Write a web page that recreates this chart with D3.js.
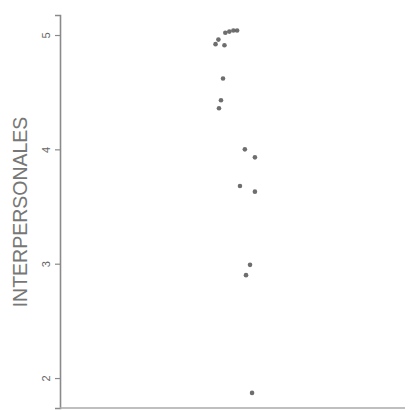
<!DOCTYPE html>
<html>
<head>
<meta charset="utf-8">
<script src="https://cdn.jsdelivr.net/npm/d3@7"></script>
<style>
  body { margin: 0; background: #fff; }
  svg { display: block; }
</style>
</head>
<body>
<svg id="chart" width="409" height="410"></svg>
<script>
// jittered strip plot, one group
var yLabel = "INTERPERSONALES";
var yTicks = [2, 3, 4, 5];
// horizontal jitter position (group centred on 1) and value
var jitterX = [0.975, 0.989, 1.003, 1.016, 0.951, 0.941, 0.972, 0.967, 0.960, 0.953, 1.043, 1.078, 1.026, 1.078, 1.061, 1.047, 1.068];
var values  = [5.02, 5.03, 5.04, 5.04, 4.96, 4.92, 4.91, 4.62, 4.43, 4.36, 4.00, 3.93, 3.68, 3.63, 2.99, 2.90, 1.87];

var svg = d3.select("#chart");
var margin = {top: 15, right: 4, bottom: 2, left: 60};
var width = 409 - margin.left - margin.right;
var height = 410 - margin.top - margin.bottom;

var x = d3.scaleLinear().domain([0.4, 1.6]).range([0, width]);
var y = d3.scaleLinear().domain([1.738, 5.175]).range([height, 0]);

var g = svg.append("g").attr("transform", "translate(" + margin.left + "," + margin.top + ")");

// y axis
var yAxis = g.append("g").call(d3.axisLeft(y).tickValues(yTicks).tickSize(5).tickPadding(3).tickFormat(d3.format("d")));
yAxis.select(".domain").attr("stroke", "#8a8a8a").attr("stroke-width", 1.6);
yAxis.selectAll(".tick line").attr("stroke", "#8a8a8a").attr("stroke-width", 1.2);
yAxis.selectAll(".tick text")
    .attr("fill", "#666")
    .attr("font-family", "Liberation Sans, Arial, sans-serif")
    .attr("font-size", 11)
    .attr("transform", "rotate(-90)")
    .attr("x", 0)
    .attr("y", -14)
    .attr("dy", "0.35em")
    .attr("text-anchor", "middle");

// x axis line only
g.append("line")
    .attr("x1", 0).attr("x2", width)
    .attr("y1", height).attr("y2", height)
    .attr("stroke", "#aaa").attr("stroke-width", 1.4);

// y title
svg.append("text")
    .attr("transform", "translate(27," + 212 + ") rotate(-90)")
    .attr("text-anchor", "middle")
    .attr("fill", "#777")
    .attr("font-family", "Liberation Sans, Arial, sans-serif")
    .attr("font-size", 19.5)
    .text(yLabel);

// points
g.selectAll("circle.pt")
    .data(values)
    .enter().append("circle")
    .attr("class", "pt")
    .attr("cx", function (d, i) { return x(jitterX[i]); })
    .attr("cy", function (d) { return y(d); })
    .attr("r", 2.3)
    .attr("fill", "#555")
    .attr("fill-opacity", 0.85);
</script>
</body>
</html>
